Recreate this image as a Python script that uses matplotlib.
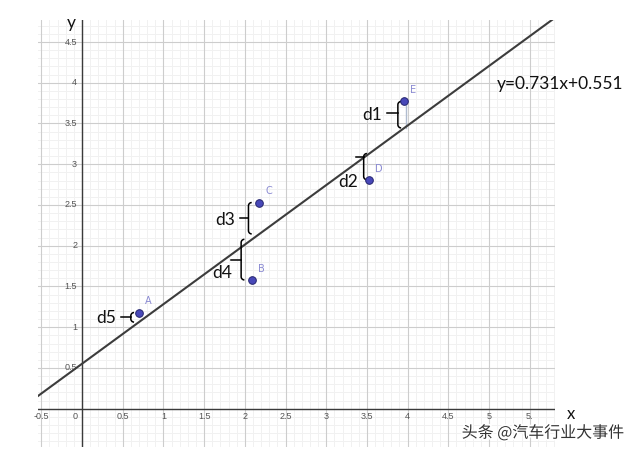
import numpy as np
import matplotlib
matplotlib.use("Agg")
import matplotlib.pyplot as plt
import matplotlib.patheffects as pe

# ---- data ----
point_names = ["A", "B", "C", "D", "E"]
point_x = [0.70, 2.09, 2.18, 3.53, 3.96]
point_y = [1.18, 1.58, 2.53, 2.81, 3.77]
residual_names = ["d5", "d4", "d3", "d2", "d1"]
slope = 0.731
intercept = 0.551
equation_label = "y=0.731x+0.551"
x_tick_values = [-0.5, 0, 0.5, 1, 1.5, 2, 2.5, 3, 3.5, 4, 4.5, 5, 5.5]
x_tick_labels = ["-0.5", "0", "0.5", "1", "1.5", "2", "2.5", "3", "3.5", "4", "4.5", "5", "5."]
y_tick_values = [0.5, 1, 1.5, 2, 2.5, 3, 3.5, 4, 4.5]
y_tick_labels = ["0.5", "1", "1.5", "2", "2.5", "3", "3.5", "4", "4.5"]
watermark = "头条 @汽车行业大事件"

# ---- figure ----
fig = plt.figure(figsize=(6.4, 4.55), dpi=100)
ax = fig.add_axes([38 / 640, 8 / 455, 517 / 640, 427 / 455])
xmin, xmax, ymin, ymax = -0.54, 5.81, -0.47, 4.77
ax.set_xlim(xmin, xmax)
ax.set_ylim(ymin, ymax)
ax.axis("off")

# grid
for v in np.arange(-0.5, 5.81, 0.1):
    ax.axvline(v, color="#f1f1f1", lw=0.7, zorder=0)
for v in np.arange(-0.4, 4.77, 0.1):
    ax.axhline(v, color="#f1f1f1", lw=0.7, zorder=0)
for v in np.arange(-0.5, 5.81, 0.5):
    ax.axvline(v, color="#cdcdcd", lw=0.8, zorder=0.5)
for v in np.arange(0.0, 4.77, 0.5):
    ax.axhline(v, color="#cdcdcd", lw=0.8, zorder=0.5)

# axes lines
ax.axhline(0, color="#3a3a3a", lw=1.0, zorder=2)
ax.axvline(0, color="#3a3a3a", lw=1.0, zorder=2)

# tick labels
for v, lab in zip(x_tick_values, x_tick_labels):
    xx = v - 0.09 if v == 0 else v
    ax.text(xx, -0.1, lab, ha="center", va="center", fontsize=6.5,
            color="#555555", family="Liberation Sans", zorder=3)
for v, lab in zip(y_tick_values, y_tick_labels):
    ax.text(-0.06, v, lab, ha="right", va="center", fontsize=6.5,
            color="#555555", family="Liberation Sans", zorder=3)

ax.text(-0.13, 4.73, "y", ha="center", va="center", fontsize=12.5,
        family="Lato", color="#111111", clip_on=False)
ax.text(6.0, -0.07, "x", ha="center", va="center", fontsize=12,
        family="Lato", color="#111111", clip_on=False)

# regression line
xs = np.array([xmin, xmax])
ax.plot(xs, slope * xs + intercept, color="#3c3c3c", lw=1.5, zorder=4)
ax.text(5.1, 3.98, equation_label, ha="left", va="center", fontsize=12.5,
        family="Lato", color="#111111", clip_on=False)

# residual segment for E
ex, ey = point_x[4], point_y[4]
ax.plot([ex + 0.02, ex + 0.02], [ey, slope * ex + intercept], color="#b0bccf",
        lw=1.0, zorder=3)


def brace(xb, ya, yb, tick_frac, L, h=0.04):
    yt, ybm = max(ya, yb), min(ya, yb)
    h = min(h, (yt - ybm) / 2.5)
    t1 = np.linspace(np.pi / 2, np.pi, 8)
    top = np.column_stack([xb + h + h * np.cos(t1), yt - h + h * np.sin(t1)])
    t2 = np.linspace(np.pi, 1.5 * np.pi, 8)
    bot = np.column_stack([xb + h + h * np.cos(t2), ybm + h + h * np.sin(t2)])
    pts = np.vstack([top, bot])
    ax.plot(pts[:, 0], pts[:, 1], color="black", lw=1.1, zorder=5,
            solid_capstyle="butt")
    ym = yt - tick_frac * (yt - ybm)
    ax.plot([xb - L, xb], [ym, ym], color="black", lw=1.1, zorder=5)
    return xb - L, ym


# brace styling per point (A..E)
brace_dx = [-0.10, -0.135, -0.135, -0.07, -0.08]
tick_frac = [0.5, 0.5, 0.5, 0.15, 0.45]
tick_len = [0.12, 0.12, 0.10, 0.10, 0.135]
label_off = [(-0.18, -0.01), (-0.11, -0.16), (-0.18, -0.02), (-0.09, -0.3), (-0.18, -0.02)]

for i in range(5):
    x0, y0 = point_x[i], point_y[i]
    yl = slope * x0 + intercept
    tx, ty = brace(x0 + brace_dx[i], y0, yl, tick_frac[i], tick_len[i])
    dx, dy = label_off[i]
    ax.text(tx + dx, ty + dy, residual_names[i], ha="center", va="center",
            fontsize=12.5, family="Lato", color="#111111", zorder=6)

# points
ax.plot(point_x, point_y, "o", ms=5.5, mfc="#4848b8", mec="#24246e",
        mew=0.7, zorder=7)
for n, x0, y0 in zip(point_names, point_x, point_y):
    ax.annotate(n, (x0, y0), xytext=(4.0, 8.0), textcoords="offset points",
                fontsize=7, color="#8a8ad2", family="DejaVu Sans",
                ha="left", va="center", zorder=7)

# watermark
fig.text(543 / 640, 1 - 433 / 455, watermark, ha="center", va="center",
         fontsize=11.5, color="#333333",
         family=["Noto Sans CJK SC", "DejaVu Sans"],
         path_effects=[pe.withStroke(linewidth=2.5, foreground="white")])

fig.savefig("out.png", dpi=100)
